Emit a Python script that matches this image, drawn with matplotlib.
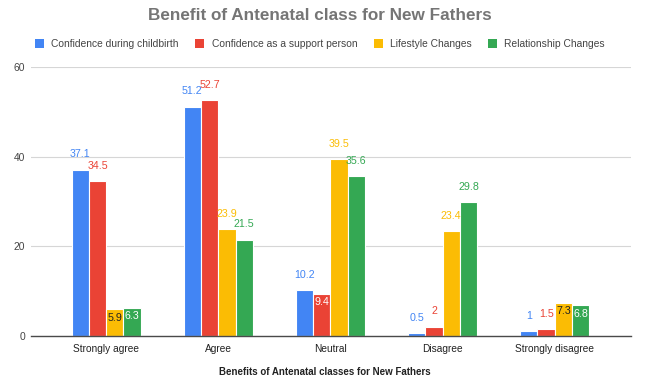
import matplotlib
matplotlib.use("Agg")
import matplotlib.pyplot as plt
import numpy as np

categories = ["Strongly agree", "Agree", "Neutral", "Disagree", "Strongly disagree"]
series_names = ["Confidence during childbirth", "Confidence as a support person",
                "Lifestyle Changes", "Relationship Changes"]
conf_childbirth = [37.1, 51.2, 10.2, 0.5, 1]
conf_support = [34.5, 52.7, 9.4, 2, 1.5]
lifestyle = [5.9, 23.9, 39.5, 23.4, 7.3]
relationship = [6.3, 21.5, 35.6, 29.8, 6.8]
y_ticks = [0, 20, 40, 60]

title = "Benefit of Antenatal class for New Fathers"
x_label = "Benefits of Antenatal classes for New Fathers"

colors = ["#4285F4", "#EA4335", "#FBBC04", "#34A853"]
series = [conf_childbirth, conf_support, lifestyle, relationship]

plt.rcParams['font.family'] = ['Liberation Sans', 'DejaVu Sans']

fig = plt.figure(figsize=(6.52, 3.83), dpi=100)
ax = fig.add_axes([31/652, 1-335.7/383, 600/652, (335.7-67.3)/383])

x = np.arange(len(categories))
bw = 0.154
for i, (vals, c, name) in enumerate(zip(series, colors, series_names)):
    pos = x + (i - 1.5) * bw
    ax.bar(pos, vals, width=bw, color=c, edgecolor="white", linewidth=0.8,
           label=name, zorder=3)
    for px, v in zip(pos, vals):
        txt = f"{v:g}"
        if 5 <= v < 10:
            tc = "#222222" if i == 2 else "white"
            ax.annotate(txt, (px, v), xytext=(0, -6), textcoords="offset points",
                        ha="center", va="center", fontsize=7.7, color=tc, zorder=4)
        else:
            ax.annotate(txt, (px, v), xytext=(0, 11), textcoords="offset points",
                        ha="center", va="center", fontsize=7.7, color=c, zorder=4)

ax.set_xlim(-0.67, 4.68)
ax.set_ylim(0, 60)
ax.set_yticks(y_ticks)
ax.set_xticks(x)
ax.set_xticklabels(categories)
ax.tick_params(axis="both", length=0)
ax.tick_params(axis="x", pad=6, labelsize=7.3, labelcolor="#222222")
ax.tick_params(axis="y", pad=4, labelsize=7.4, labelcolor="#444444")
ax.grid(axis="y", color="#d6d6d6", linewidth=0.8, zorder=0)
for s in ["top", "right", "left"]:
    ax.spines[s].set_visible(False)
ax.spines["bottom"].set_color("#4a4a4a")
ax.spines["bottom"].set_linewidth(1.0)
ax.spines["bottom"].set_zorder(5)

fig.text(320/652, 1-15/383, title, ha="center", va="center", fontsize=12.3,
         fontweight="bold", color="#757575")
fig.text(325/652, 1-372/383, x_label, ha="center", va="center", fontsize=7,
         fontweight="bold", color="#222222")

leg = fig.legend(loc="center", bbox_to_anchor=(320/652, 1-44/383), ncol=4,
                 frameon=False, fontsize=7.35, handlelength=0.9, handleheight=0.9,
                 handletextpad=0.7, columnspacing=1.6, borderaxespad=0)
for t in leg.get_texts():
    t.set_color("#444444")
for h in leg.legend_handles:
    h.set_edgecolor("none")

fig.savefig("out.png", dpi=100)
